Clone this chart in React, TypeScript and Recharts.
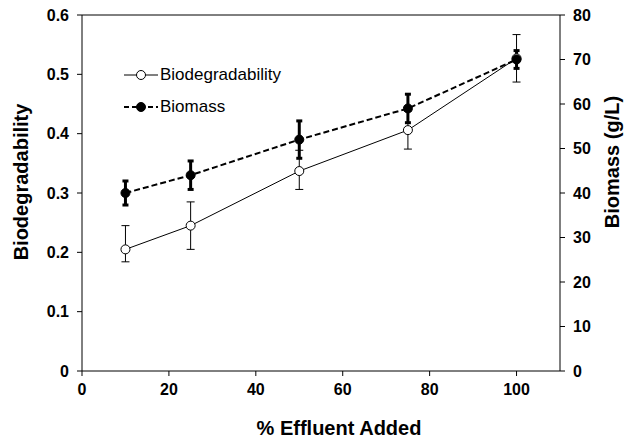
import React from 'react';
import { ComposedChart, Line, XAxis, YAxis, ErrorBar, ReferenceLine, Legend, Label } from 'recharts';

const effluent = [10, 25, 50, 75, 100];
const biodegradability = [0.205, 0.245, 0.337, 0.406, 0.527];
const biodegErrLow = [0.021, 0.04, 0.031, 0.032, 0.04];
const biodegErrHigh = [0.04, 0.04, 0.035, 0.032, 0.04];
const biomass = [40, 44, 52, 59, 70];
const biomassErr = [2.7, 3.2, 4.2, 3.2, 2];

const xTicks = [0, 20, 40, 60, 80, 100];
const leftTicks = [0, 0.1, 0.2, 0.3, 0.4, 0.5, 0.6];
const rightTicks = [0, 10, 20, 30, 40, 50, 60, 70, 80];

const data = effluent.map((x, i) => ({
  x,
  biodeg: biodegradability[i],
  biodegErr: [biodegErrLow[i], biodegErrHigh[i]],
  biomass: biomass[i],
  biomassErr: biomassErr[i]
}));

const FONT = '"Liberation Sans", Arial, sans-serif';
const tickStyle = { fontSize: 16, fontWeight: 700, fill: '#000', fontFamily: FONT };

function title(text: string, x: number, y: number, angle: number) {
  return <text x={x} y={y} transform={`rotate(${angle} ${x} ${y})`} textAnchor="middle" dominantBaseline="central" style={{
    fontSize: 20,
    fontWeight: 700,
    fill: '#000',
    fontFamily: FONT
  }}>
      {text}
    </text>;
}

function LegendBox(props: any) {
  const items = props.payload || [];
  return <div style={{ fontFamily: FONT, fontSize: 17, color: '#000' }}>
      {items.map((item: any) => {
      const dashed = item.dataKey === 'biomass';
      return <div key={item.value} style={{ display: 'flex', alignItems: 'center', height: 32 }}>
            <svg width={34} height={14}>
              <line x1={0} y1={7} x2={34} y2={7} stroke="#000" strokeWidth={dashed ? 2 : 1} strokeDasharray={dashed ? '5 3' : undefined} />
              <circle cx={17} cy={7} r={dashed ? 4.5 : 4.5} fill={dashed ? '#000' : '#fff'} stroke="#000" />
            </svg>
            <span style={{ marginLeft: 2 }}>{item.value}</span>
          </div>;
    })}
    </div>;
}

export default function App() {
  return <div style={{ position: 'absolute', left: 0, top: 0 }}>
      <ComposedChart width={627} height={439} data={data} margin={{ top: 15, right: 0, bottom: 0, left: 0 }}>
        <XAxis dataKey="x" type="number" domain={[0, 110]} ticks={xTicks} height={68} tickSize={5} tickMargin={8} stroke="#000" tick={tickStyle}>
          <Label content={() => title('% Effluent Added', 339, 428, 0)} />
        </XAxis>
        <YAxis yAxisId="left" domain={[0, 0.6]} ticks={leftTicks} width={82} tickSize={5} tickMargin={8} stroke="#000" tick={tickStyle}>
          <Label content={() => title('Biodegradability', 21, 182, -90)} />
        </YAxis>
        <YAxis yAxisId="right" orientation="right" domain={[0, 80]} ticks={rightTicks} width={67} tickSize={5} tickMargin={8} stroke="#000" tick={tickStyle}>
          <Label content={() => title('Biomass (g/L)', 612, 162, -90)} />
        </YAxis>
        <ReferenceLine yAxisId="left" y={0.6} stroke="#000" />
        <Legend layout="vertical" align="center" verticalAlign="middle" content={<LegendBox />} wrapperStyle={{ left: 124, top: 59, width: 220 }} />
        <Line yAxisId="left" name="Biodegradability" dataKey="biodeg" type="linear" stroke="#000" strokeWidth={1} dot={{ r: 4.5, fill: '#fff', stroke: '#000', strokeWidth: 1 }} activeDot={false} isAnimationActive={false}>
          <ErrorBar dataKey="biodegErr" direction="y" width={4} stroke="#000" strokeWidth={1} />
        </Line>
        <Line yAxisId="right" name="Biomass" dataKey="biomass" type="linear" stroke="#000" strokeWidth={2} strokeDasharray="6 3" dot={{ r: 4.5, fill: '#000', stroke: '#000', strokeWidth: 1, strokeDasharray: '' }} activeDot={false} isAnimationActive={false}>
          <ErrorBar dataKey="biomassErr" direction="y" width={3} stroke="#000" strokeWidth={3} />
        </Line>
      </ComposedChart>
    </div>;
}
